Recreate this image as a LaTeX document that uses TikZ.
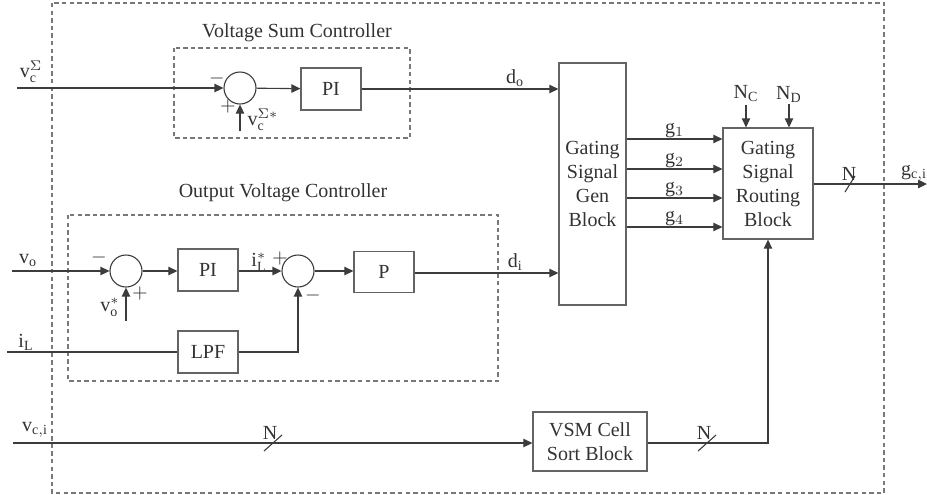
\documentclass[tikz,border=0pt]{standalone}
\usepackage{fontspec}
\setmainfont{Liberation Serif}
\usepackage{tikz}
\usetikzlibrary{arrows.meta, positioning, calc}
\definecolor{mydark}{RGB}{60,60,60}
\definecolor{mybox}{RGB}{100,100,100}
\definecolor{mydash}{RGB}{120,120,120}
\definecolor{mytext}{RGB}{50,50,50}
\tikzset{
  line/.style={draw=mydark, line width=0.55pt},
  arrow/.style={draw=mydark, line width=0.55pt, -{Triangle[length=4.5pt, width=4.2pt]}},
  block/.style={draw=mybox, line width=0.6pt, rectangle, align=center, inner sep=0pt},
  sumnode/.style={draw=mydark, line width=0.55pt, circle, minimum size=16pt, inner sep=0pt},
  ctrlbox/.style={draw=mydash, line width=0.6pt, dash pattern=on 2.2pt off 1.6pt},
  lbl/.style={text=mytext, inner sep=1pt}
}

\begin{document}
\begin{tikzpicture}[x=0.5pt, y=-0.5pt, font=\fontsize{10}{12}\selectfont, text=mytext]
  \useasboundingbox (0,0) rectangle (927,494);

  % dashed frames
  \draw [ctrlbox] (52,3) rectangle (884,493);
  \draw [ctrlbox] (174,48) rectangle (410,138);
  \draw [ctrlbox] (68,215) rectangle (498,381);
  \node [lbl] (sumtitle) at (297,33) {Voltage Sum Controller};
  \node [lbl] (outtitle) at (283,193) {Output Voltage Controller};

  % voltage sum controller
  \node [sumnode] (sum1) at (240,88) {};
  \node [block, minimum width=30pt, minimum height=21pt] (pi1) at (331,89) {PI};
  \coordinate (in1) at (17,88);
  \coordinate (ref1) at (240,131);
  \node [lbl] (vcs) at (31,72) {$\mathrm{v}_{\mathrm{c}}^{\Sigma}$};
  \node [lbl] at (217,78) {$-$};
  \node [lbl] at (228,106) {$+$};
  \node [lbl] (vcsref) at (263,120) {$\mathrm{v}_{\mathrm{c}}^{\Sigma *}$};
  \draw [arrow] (in1) -- (sum1);
  \draw [arrow] (ref1) -- (sum1);
  \draw [arrow] (sum1) -- (pi1);

  % output voltage controller
  \node [sumnode] (sum2) at (126,271) {};
  \node [block, minimum width=30pt, minimum height=21pt] (pi2) at (208,270) {PI};
  \node [sumnode] (sum3) at (298,271) {};
  \node [block, minimum width=30pt, minimum height=20.5pt] (pp) at (384,272) {P};
  \node [block, minimum width=30pt, minimum height=21pt] (lpf) at (208,352) {LPF};
  \coordinate (in2) at (12,271);
  \coordinate (in3) at (7,352);
  \coordinate (ref2) at (126,321);
  \node [lbl] (vo) at (28,260) {$\mathrm{v}_{\mathrm{o}}$};
  \node [lbl] (il) at (26,342) {$\mathrm{i}_{\mathrm{L}}$};
  \node [lbl] at (99,257) {$-$};
  \node [lbl] at (140,293) {$+$};
  \node [lbl] (voref) at (110,307) {$\mathrm{v}_{\mathrm{o}}^{*}$};
  \node [lbl] (ilref) at (259,262) {$\mathrm{i}_{\mathrm{L}}^{*}$};
  \node [lbl] at (280,258) {$+$};
  \node [lbl] at (313,295) {$-$};
  \draw [arrow] (in2) -- (sum2);
  \draw [arrow] (ref2) -- (sum2);
  \draw [arrow] (sum2) -- (sum2 -| pi2.west);
  \draw [arrow] (pi2.east |- sum3) -- (sum3);
  \draw [arrow] (sum3) -- (sum3 -| pp.west);
  \draw [line] (in3) -- (in3 -| lpf.west);
  \draw [arrow] (lpf) -| (sum3);

  % gating blocks
  \node [block, minimum width=33.5pt, minimum height=121pt] (gen) at (592.5,184) {Gating\\Signal\\Gen\\Block};
  \node [block, minimum width=45pt, minimum height=55.5pt] (route) at (768,183.5) {Gating\\Signal\\Routing\\Block};
  \draw [arrow] (pi1) -- (pi1 -| gen.west) node [lbl, pos=0.78, above] {$\mathrm{d}_{\mathrm{o}}$};
  \draw [arrow] (pp.east |- 0,273) -- (gen.west |- 0,273) node [lbl, pos=0.7, above] {$\mathrm{d}_{\mathrm{i}}$};
  \foreach \i/\y in {1/139, 2/169, 3/198, 4/227}
    \draw [arrow] (gen.east |- 0,\y) -- (route.west |- 0,\y) node [lbl, midway, above, inner sep=0.5pt] {$\mathrm{g}_{\i}$};
  \node [lbl] (nc) at (746,94) {$\mathrm{N}_{\mathrm{C}}$};
  \node [lbl] (nd) at (789,94) {$\mathrm{N}_{\mathrm{D}}$};
  \draw [arrow] (nc) -- (nc |- route.north);
  \draw [arrow] (nd) -- (nd |- route.north);
  \coordinate (out) at (927,184);
  \coordinate (bus3) at (850,184);
  \node [lbl] (gci) at (914,173) {$\mathrm{g}_{\mathrm{c,i}}$};
  \draw [arrow] (route.east |- out) -- (out);
  \draw [line] (bus3) ++(-5,8) -- ++(10,-16);
  \node [lbl, anchor=south] at ($(bus3)+(-1,-1)$) {N};

  % cell sorting
  \node [block, minimum width=57pt, minimum height=29.5pt] (vsm) at (590,441.5) {VSM Cell\\Sort Block};
  \coordinate (in4) at (13,443);
  \coordinate (bus1) at (273,443);
  \coordinate (bus2) at (707,443);
  \node [lbl] (vci) at (35,430) {$\mathrm{v}_{\mathrm{c,i}}$};
  \draw [arrow] (in4) -- (in4 -| vsm.west);
  \draw [arrow] (vsm.east |- in4) -| (route);
  \foreach \b in {bus1, bus2} {
    \draw [line] (\b) ++(-9,8) -- ++(18,-16);
    \node [lbl, anchor=south] at ($(\b)+(-3,-1)$) {N};
  }
\end{tikzpicture}
\end{document}
